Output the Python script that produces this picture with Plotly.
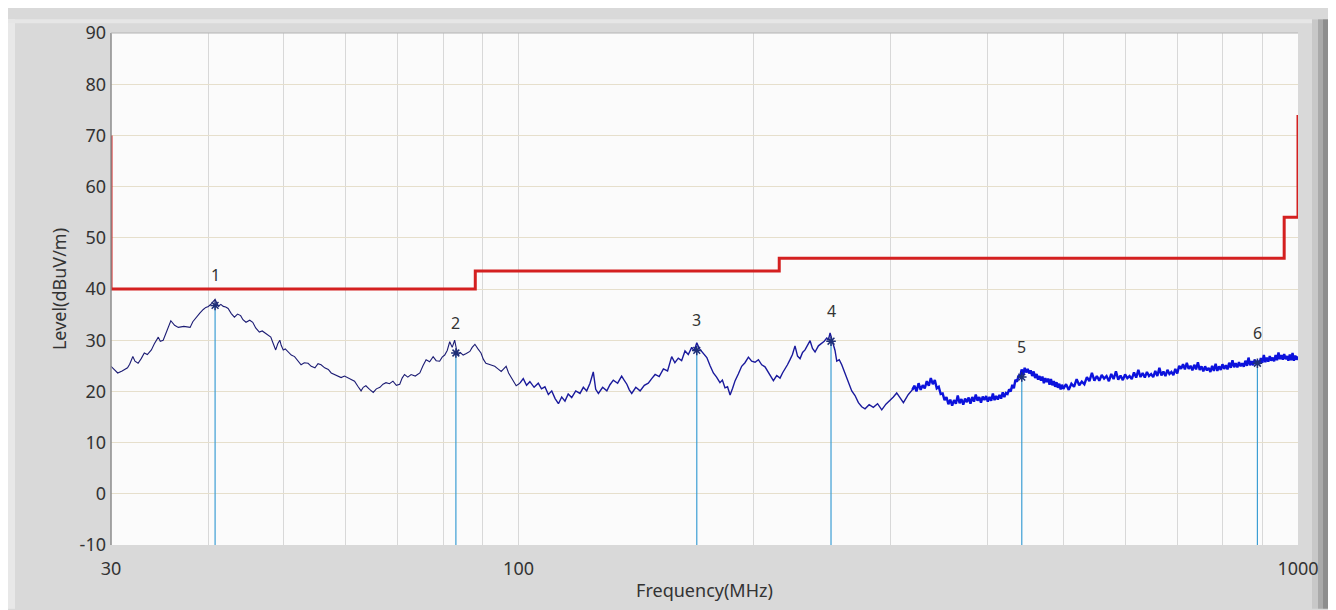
import math
import plotly.graph_objects as go

# ---------------- data ----------------
# measured trace: frequency (MHz) and level (dBuV/m)
freq_mhz = [
    # 30 - 100 MHz
    30.0, 30.3, 30.6, 31.0, 31.5, 31.7, 32.0, 32.2, 32.5, 32.8, 33.1, 33.4, 33.8, 34.1, 34.5,
    34.7, 35.0, 35.4, 35.8, 36.2, 36.6, 37.2, 37.9, 38.2, 38.6, 39.0, 39.4, 39.7, 40.0, 40.4,
    40.8, 41.0, 41.2, 41.5, 41.8, 42.1, 42.4, 42.8, 43.2, 43.6, 44.0, 44.3, 44.7, 45.2, 45.6,
    46.0, 46.5, 46.9, 47.4, 47.7, 48.1, 48.4, 48.8, 49.1, 49.4, 49.6, 49.9, 50.2, 50.6, 51.1,
    51.6, 52.1, 52.6, 53.1, 53.7, 54.2, 54.8, 55.3, 55.8, 56.4, 57.0, 57.5, 58.1, 58.6, 59.2,
    59.8, 60.4, 61.0, 61.6, 62.2, 62.8, 63.2, 63.7, 64.4, 65.1, 65.7, 66.4, 67.0, 67.6, 68.3,
    69.0, 69.7, 70.4, 70.9, 71.4, 72.1, 72.8, 73.7, 74.7, 75.4, 76.1, 76.9, 77.7, 78.4, 79.2,
    79.8, 80.4, 81.0, 81.6, 82.2, 82.8, 83.2, 83.6, 84.2, 84.9, 85.7, 86.6, 87.2, 87.9, 88.7,
    89.5, 90.1, 90.8, 92.0, 93.2, 94.1, 95.0, 95.7, 96.4, 97.1, 97.8, 98.5, 99.3,
    # 100 - 320 MHz
    100.4, 101.4, 102.4, 103.4, 104.7, 106.0, 107.0, 108.1, 109.2, 110.3, 111.4, 112.5, 113.6,
    114.7, 115.8, 117.0, 118.4, 119.9, 121.1, 122.3, 123.5, 124.7, 125.6, 126.6, 128.2, 129.8,
    131.0, 132.3, 134.0, 135.6, 136.6, 137.7, 138.7, 139.7, 141.4, 143.2, 145.0, 146.7, 148.2,
    149.7, 151.5, 153.4, 155.3, 157.2, 158.7, 160.3, 161.9, 163.5, 165.1, 166.8, 168.0, 169.3,
    170.5, 171.8, 173.1, 174.4, 176.1, 177.8, 179.5, 181.3, 182.6, 184.0, 185.4, 186.8, 188.2,
    189.6, 191.4, 193.3, 195.2, 197.2, 199.1, 201.1, 203.1, 205.1, 207.1, 209.2, 210.7, 212.3,
    214.4, 216.5, 218.1, 219.7, 221.3, 223.0, 224.6, 226.3, 228.0, 229.7, 231.4, 233.1, 234.8,
    236.6, 238.3, 240.1, 242.5, 244.9, 246.7, 248.5, 249.7, 251.0, 252.2, 253.4, 254.7, 256.0,
    257.9, 259.8, 261.7, 263.7, 265.6, 267.6, 270.2, 272.9, 275.6, 278.3, 281.7, 285.2, 288.8,
    292.4, 296.0, 299.6, 302.6, 305.6, 308.6, 311.7, 316.3, 320.0,
    # 320 - 500 MHz
    322, 324, 326, 328, 330, 332, 334, 336, 338, 340,
    342, 344, 346, 348, 350, 352, 354, 356, 358, 360,
    362, 364, 366, 368, 370, 372, 374, 376, 378, 380,
    382, 384, 386, 388, 390, 392, 394, 396, 398, 400,
    402, 404, 406, 408, 410, 412, 414, 416, 418, 420,
    422, 424, 426, 428, 430, 432, 434, 436, 438, 440,
    442, 444, 446, 448, 450, 452, 454, 456, 458, 460,
    462, 464, 466, 468, 470, 472, 474, 476, 478, 480,
    482, 484, 486, 488, 490, 492, 494, 496, 498, 500,
    # 500 - 1000 MHz
    504, 508, 512, 516, 520, 524, 528, 532, 536, 540,
    544, 548, 552, 556, 560, 564, 568, 572, 576, 580,
    584, 588, 592, 596, 600, 604, 608, 612, 616, 620,
    624, 628, 632, 636, 640, 644, 648, 652, 656, 660,
    664, 668, 672, 676, 680, 684, 688, 692, 696, 700,
    704, 708, 712, 716, 720, 724, 728, 732, 736, 740,
    744, 748, 752, 756, 760, 764, 768, 772, 776, 780,
    784, 788, 792, 796, 800, 804, 808, 812, 816, 820,
    824, 828, 832, 836, 840, 844, 848, 852, 856, 860,
    864, 868, 872, 876, 880, 884, 888, 892, 896, 900,
    904, 908, 912, 916, 920, 924, 928, 932, 936, 940,
    944, 948, 952, 956, 960, 964, 968, 972, 976, 980,
    984, 988, 992, 996, 1000,
]
level_dbuv = [
    # 30 - 100 MHz
    24.9, 24.2, 23.6, 24.0, 24.6, 25.3, 26.8, 25.9, 25.5, 26.4, 27.5, 27.2, 28.1, 29.3, 30.6,
    29.8, 30.0, 31.9, 33.8, 32.9, 32.5, 32.7, 32.5, 33.6, 34.5, 35.3, 36.0, 36.4, 36.6, 37.2,
    38.0, 37.1, 36.6, 37.0, 36.6, 36.5, 36.2, 35.2, 34.5, 35.1, 34.8, 34.0, 33.5, 33.9, 33.5,
    32.4, 31.6, 31.8, 31.3, 31.0, 30.6, 29.5, 28.1, 29.3, 30.0, 29.0, 28.1, 28.3, 27.8, 27.1,
    26.8, 26.0, 25.2, 25.6, 25.5, 24.9, 24.6, 25.4, 25.2, 24.6, 24.3, 23.6, 23.3, 23.1, 22.7,
    23.0, 22.7, 22.4, 22.0, 21.0, 20.1, 20.8, 21.1, 20.4, 19.8, 20.5, 20.8, 21.4, 21.7, 21.5,
    22.0, 21.2, 21.4, 22.6, 23.3, 22.8, 23.3, 23.0, 23.6, 25.0, 26.2, 25.8, 26.8, 26.0, 25.9,
    26.7, 27.1, 28.0, 29.7, 28.6, 30.0, 28.4, 27.1, 27.6, 27.1, 27.4, 27.8, 28.6, 29.2, 28.3,
    27.5, 26.3, 25.5, 25.2, 24.9, 24.4, 23.9, 24.4, 24.9, 23.6, 22.7, 22.0, 21.1,
    # 100 - 320 MHz
    21.6, 22.5, 21.2, 21.9, 20.8, 21.6, 20.5, 20.9, 19.4, 20.1, 18.6, 17.6, 18.9,
    18.1, 19.5, 18.8, 20.1, 19.6, 20.8, 20.1, 21.6, 23.8, 20.4, 19.6, 20.8, 20.1,
    21.3, 22.2, 21.6, 23.0, 22.2, 21.4, 20.3, 19.6, 20.8, 20.1, 21.2, 21.6, 22.5,
    23.3, 22.9, 24.4, 24.0, 26.8, 25.6, 26.5, 26.0, 27.9, 27.2, 28.6, 27.9, 29.5,
    28.4, 27.8, 27.2, 26.6, 25.0, 23.6, 22.8, 21.7, 22.2, 20.7, 20.9, 19.3, 20.6,
    22.1, 23.4, 24.9, 25.6, 26.7, 25.9, 25.7, 26.2, 25.2, 24.8, 23.6, 23.0, 22.1,
    23.1, 22.6, 23.6, 24.3, 25.2, 26.2, 27.2, 28.9, 26.9, 26.4, 27.6, 28.1, 29.0,
    29.9, 28.4, 27.7, 28.9, 29.4, 29.8, 30.4, 30.0, 31.4, 30.3, 29.4, 28.0, 25.9,
    26.2, 25.2, 24.0, 22.4, 21.5, 20.1, 19.2, 17.8, 17.0, 16.6, 17.4, 16.9, 17.6,
    16.4, 17.5, 18.2, 18.9, 19.7, 18.7, 17.8, 19.4, 20.3,
    # 320 - 500 MHz
    21.1, 20.0, 21.6, 20.3, 21.2, 20.6, 22.0, 21.1, 22.6, 21.4,
    22.2, 20.6, 20.9, 19.5, 19.6, 18.3, 18.9, 17.5, 18.4, 17.2,
    18.3, 17.6, 19.2, 17.7, 18.5, 17.4, 18.6, 17.9, 18.8, 17.6,
    18.9, 18.0, 19.4, 18.2, 18.9, 17.8, 19.0, 18.3, 19.1, 18.0,
    18.9, 18.2, 19.6, 18.3, 19.1, 18.4, 19.3, 18.6, 19.8, 18.9,
    19.7, 19.5, 20.4, 20.0, 21.3, 20.6, 22.3, 21.9, 23.1, 22.8,
    24.3, 23.2, 24.6, 23.7, 24.4, 23.5, 24.1, 23.0, 23.9, 22.6,
    23.4, 22.3, 23.0, 22.1, 22.9, 21.6, 22.6, 21.8, 22.5, 21.3,
    22.4, 21.2, 22.0, 20.9, 21.8, 20.7, 21.5, 20.4, 21.3, 20.5,
    # 500 - 1000 MHz
    21.4, 20.3, 21.5, 20.9, 22.4, 21.2, 21.9, 21.4, 22.8, 22.0,
    23.6, 22.1, 23.0, 22.1, 23.2, 22.5, 23.0, 22.0, 23.4, 22.4,
    23.9, 22.3, 23.1, 22.2, 23.3, 22.6, 23.0, 22.4, 23.7, 22.7,
    24.2, 22.8, 23.6, 22.7, 23.8, 23.0, 23.4, 22.8, 24.0, 23.0,
    24.6, 23.1, 23.9, 23.0, 24.2, 23.4, 23.8, 23.2, 24.4, 23.5,
    25.0, 24.4, 25.3, 24.3, 25.6, 24.4, 25.0, 24.1, 25.2, 24.3,
    25.7, 24.2, 24.9, 23.9, 24.9, 24.1, 24.6, 23.8, 25.0, 24.0,
    25.4, 24.0, 24.9, 24.2, 25.3, 24.4, 25.1, 24.3, 25.6, 24.6,
    26.1, 24.7, 25.5, 24.7, 25.7, 24.9, 25.5, 24.8, 26.0, 25.0,
    26.6, 25.1, 25.9, 25.1, 26.2, 25.4, 26.0, 25.3, 26.5, 25.6,
    27.1, 25.7, 26.6, 25.8, 26.9, 26.0, 26.6, 25.9, 27.1, 26.1,
    27.6, 26.3, 27.1, 26.2, 27.3, 26.3, 26.9, 26.0, 27.2, 26.1,
    27.5, 26.0, 27.0, 26.2, 26.8,
]

limit_freq = [30, 30, 88, 216, 960, 1000, 1000]
limit_level = [70, 40, 43.5, 46, 54, 54, 74]

marker_ids = ["1", "2", "3", "4", "5", "6"]
marker_freq = [40.8, 83.1, 169.3, 251.7, 442.2, 887.0]
marker_level = [36.8, 27.5, 28.0, 29.8, 22.8, 25.5]

y_tick_vals = [-10, 0, 10, 20, 30, 40, 50, 60, 70, 80, 90]
y_tick_text = ["-10", "0", "10", "20", "30", "40", "50", "60", "70", "80", "90"]
x_grid_vals = [30, 40, 50, 60, 70, 80, 90, 100, 200, 300, 400, 500, 600, 700, 800, 900, 1000]
x_labeled = [30, 100, 1000]

# ---------------- figure ----------------
FONT = "Noto Sans"
fig = go.Figure()

# measured trace, drawn in style bands (thin at low frequency, dense band at high)
segments = [
    (30.0, 100.4, 1.1, "#1c1c74"),
    (100.4, 322.0, 1.4, "#1a1a9c"),
    (320.0, 1000.0, 2.4, "#0c12dc"),
]
for lo, hi, w, c in segments:
    idx = [i for i, f in enumerate(freq_mhz) if lo <= f <= hi]
    fig.add_trace(go.Scatter(
        x=[freq_mhz[i] for i in idx], y=[level_dbuv[i] for i in idx],
        mode="lines", line=dict(color=c, width=w), hoverinfo="skip"))

# limit line
fig.add_trace(go.Scatter(
    x=limit_freq, y=limit_level, mode="lines",
    line=dict(color="#d42020", width=3, shape="hv"), hoverinfo="skip"))

# marker stems
stem_x, stem_y = [], []
for f, lv in zip(marker_freq, marker_level):
    stem_x += [f, f, None]
    stem_y += [y_tick_vals[0], lv, None]
fig.add_trace(go.Scatter(x=stem_x, y=stem_y, mode="lines",
                         line=dict(color="#3c9ed4", width=1.2), hoverinfo="skip"))

# marker symbols
fig.add_trace(go.Scatter(
    x=marker_freq, y=marker_level, mode="markers",
    marker=dict(symbol="asterisk-open", size=8, color="#1e2f78",
                line=dict(color="#1e2f78", width=1.5)),
    hoverinfo="skip"))

for mid, f, lv in zip(marker_ids, marker_freq, marker_level):
    fig.add_annotation(x=math.log10(f), y=lv, text=mid, showarrow=False, yshift=30,
                       font=dict(family=FONT, size=16, color="#333333"))

# frame decorations (window look); positions given in page pixels
def px2x(px):
    return (px - 111) / 1187.0

def py2y(py):
    return (545 - py) / 523.0

shapes = [
    dict(type="rect", xref="paper", yref="paper", x0=px2x(8), x1=px2x(15), y0=py2y(610), y1=py2y(8),
         fillcolor="#e8e8e8", line=dict(width=0), layer="below"),
    dict(type="rect", xref="paper", yref="paper", x0=px2x(8), x1=px2x(1336), y0=py2y(12), y1=py2y(8),
         fillcolor="#e6e6e6", line=dict(width=0), layer="below"),
    dict(type="rect", xref="paper", yref="paper", x0=px2x(1312), x1=px2x(1318), y0=py2y(610), y1=py2y(8),
         fillcolor="#c8c8c8", line=dict(width=0), layer="below"),
    dict(type="rect", xref="paper", yref="paper", x0=px2x(1318), x1=px2x(1323), y0=py2y(610), y1=py2y(8),
         fillcolor="#aaaaaa", line=dict(width=0), layer="below"),
    dict(type="rect", xref="paper", yref="paper", x0=px2x(1323), x1=px2x(1330), y0=py2y(610), y1=py2y(8),
         fillcolor="#8e8e8e", line=dict(width=0), layer="below"),
    dict(type="rect", xref="paper", yref="paper", x0=px2x(1330), x1=px2x(1336), y0=py2y(610), y1=py2y(8),
         fillcolor="#a6a6a6", line=dict(width=0), layer="below"),
    dict(type="line", xref="paper", yref="paper", x0=0, x1=0, y0=0, y1=1,
         line=dict(color="#8c8c8c", width=1.5), layer="above"),
    dict(type="line", xref="paper", yref="paper", x0=0, x1=1, y0=1, y1=1,
         line=dict(color="#b4b4b4", width=1), layer="above"),
]

# the page body adds an 8px offset, so the figure is 8px smaller than the window
fig.update_layout(
    width=1328, height=602,
    margin=dict(l=103, r=38, t=14, b=65),
    paper_bgcolor="#d9d9d9", plot_bgcolor="#fbfbfb",
    showlegend=False,
    font=dict(family=FONT, size=18, color="#333333"),
    shapes=shapes,
    xaxis=dict(
        type="log", range=[math.log10(30), math.log10(1000)],
        tickvals=x_grid_vals,
        ticktext=[str(v) if v in x_labeled else "" for v in x_grid_vals],
        showgrid=True, gridcolor="#d8d8d8", gridwidth=1, zeroline=False, showline=False,
        ticks="", ticklabelstandoff=11,
        tickfont=dict(family=FONT, size=18, color="#333333"),
        title=dict(text="Frequency(MHz)", standoff=5,
                   font=dict(family=FONT, size=18, color="#333333")),
    ),
    yaxis=dict(
        range=[-10, 90], tickvals=y_tick_vals, ticktext=y_tick_text,
        showgrid=True, gridcolor="#e6dfcc", gridwidth=1, zeroline=False, showline=False,
        ticks="", ticklabelstandoff=4,
        tickfont=dict(family=FONT, size=18, color="#333333"),
        title=dict(text="Level(dBuV/m)", standoff=8,
                   font=dict(family=FONT, size=18, color="#333333")),
    ),
)

fig.write_html("out.html")
